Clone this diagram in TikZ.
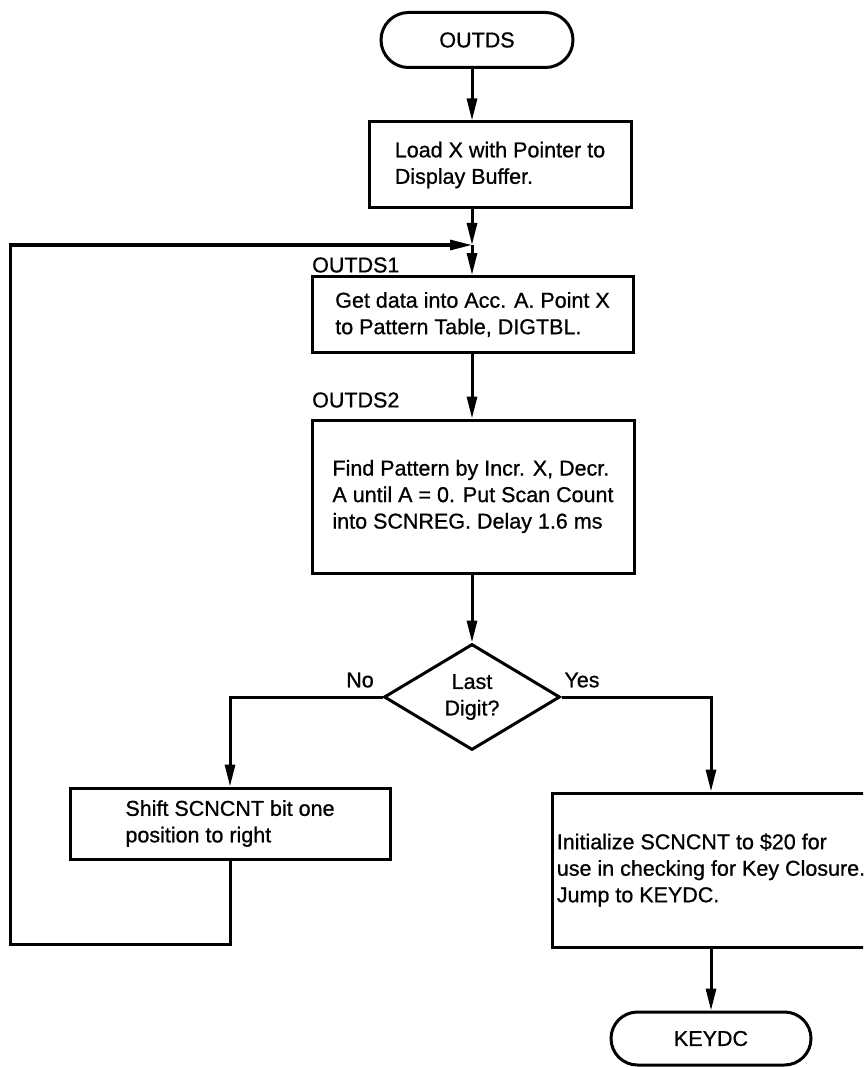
\documentclass[tikz,border=0pt]{standalone}
\usepackage{fontspec}
\setmainfont{Liberation Sans}[FakeBold=0.8]
\usetikzlibrary{shapes.geometric,shapes.misc,arrows.meta}
\begin{document}
\begin{tikzpicture}[x=1pt,y=-1pt,
  every node/.style={font=\fontsize{21.5}{26.5}\selectfont},
  proc/.style={draw, line width=3pt, rectangle, align=left, inner sep=0pt},
  term/.style={draw, line width=3pt, rounded rectangle, inner sep=0pt},
  decide/.style={draw, line width=3pt, diamond, aspect=1.66, inner sep=0pt, align=center,
     minimum width=176pt, minimum height=106pt},
  lbl/.style={inner sep=0pt},
  flow/.style={line width=3pt, -{Triangle[length=22pt,width=10pt]}},
  plain/.style={line width=3pt}]
\useasboundingbox (0,0) rectangle (863,1067);
\clip (0,0) rectangle (863,1067);

\node[term, minimum width=192pt, minimum height=55pt] (outds) at (477,40) {OUTDS};
\node[proc, minimum width=262pt, minimum height=86pt] (load) at (500,165)
  {Load X with Pointer to\\Display Buffer.};
\coordinate (j) at (472,245);
\node[lbl, anchor=west] (l1) at (312,265) {OUTDS1};
\node[proc, minimum width=321pt, minimum height=76pt] (get) at (472.5,314.5)
  {Get data into Acc. A. Point X\\to Pattern Table, DIGTBL.};
\node[lbl, anchor=west] (l2) at (312,400) {OUTDS2};
\node[proc, minimum width=322pt, minimum height=153pt] (find) at (473,496.5)
  {Find Pattern by Incr. X, Decr.\\A until A = 0. Put Scan Count\\into SCNREG. Delay 1.6 ms};
\node[decide] (dia) at (472,697) {Last\\Digit?};
\node[lbl] (no) at (360,680) {No};
\node[lbl] (yes) at (582,680) {Yes};
\node[proc, minimum width=320pt, minimum height=71pt] (shift) at (230,823.5)
  {Shift SCNCNT bit one\\position to right};
\node[proc, minimum width=318pt, minimum height=154pt] (init) at (711,870)
  {Initialize SCNCNT to \$20 for\\use in checking for Key Closure.\\Jump to KEYDC.};
\node[term, minimum width=200pt, minimum height=53pt] (keydc) at (711,1038.5) {KEYDC};

\coordinate (c1) at (230,944);
\coordinate (c2) at (10,944);
\coordinate (c3) at (10,245);

\draw[flow] (outds.south -| j) -- (load.north -| j);
\draw[flow] (load.south -| j) -- (j);
\draw[flow] (j) -- (get.north -| j);
\draw[flow] (get.south -| j) -- (find.north -| j);
\draw[flow] (find.south -| j) -- (dia.north);
\draw[flow] (dia.west) -| (shift.north);
\draw[flow] (dia.east) -| (init.north);
\draw[flow] (init.south) -- (keydc.north);
\draw[plain] (shift.south) -- (c1) -- (c2) -- (c3) -- ([xshift=-30pt]j);
\draw[flow] ([xshift=-31pt]j) -- (j);
\end{tikzpicture}
\end{document}
